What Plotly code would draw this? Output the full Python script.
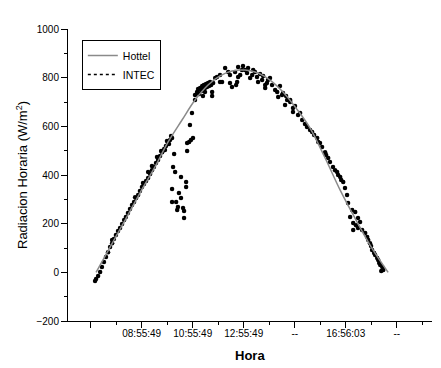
import plotly.graph_objects as go

# Hottel model curve (hour of day, W/m2)
hottel_hour = [7.14, 7.69, 8.28, 8.86, 9.45, 9.96, 10.51, 11.02, 11.53, 12.00, 12.47,
               12.98, 13.49, 13.96, 14.47, 14.98, 15.53, 16.12, 16.71, 17.29, 17.88, 18.59]
hottel_val = [0, 104, 215, 326, 433, 535, 626, 708, 770, 807, 827,
              831, 819, 790, 741, 675, 593, 470, 338, 223, 112, 0]

# INTEC measured data (hour of day, W/m2)
intec_hour = [
    7.10, 7.14, 7.22, 7.30, 7.37, 7.45, 7.53, 7.61, 7.69, 7.77, 7.84, 7.92, 8.00, 8.08,
    8.16, 8.24, 8.31, 8.39, 8.47, 8.55, 8.63, 8.71, 8.79, 8.86, 8.94, 9.02, 9.10, 9.18,
    9.26, 9.33, 9.41, 9.49, 9.57, 9.65, 9.73, 9.81, 9.88, 9.96, 10.04,
    7.77, 8.67, 8.98, 9.18, 9.33, 9.53, 9.69, 9.84, 9.92, 10.00, 10.08, 10.12,
    10.20, 10.71, 10.16, 10.24, 10.47, 10.67, 10.67, 10.12, 10.39, 10.47, 10.12, 10.28,
    10.35, 10.32, 10.55, 10.59, 10.59, 10.79, 10.86, 10.90, 10.82, 10.71, 10.94, 11.02,
    11.02, 11.10, 11.14, 11.18, 11.22, 11.26, 11.30, 11.33, 11.37, 11.41, 11.45, 11.49,
    11.53, 11.57, 11.61, 11.65, 11.69, 11.69, 11.73, 11.41, 11.33,
    11.88, 12.00, 12.08, 11.81, 12.00, 12.20, 12.32, 12.39, 12.39, 12.47, 12.63, 12.67,
    12.71, 12.71, 12.86, 12.98, 13.06, 13.18, 13.26, 13.37, 13.45, 13.49, 13.57, 13.65,
    13.77, 13.77, 13.84, 13.96, 14.04, 14.16, 14.24, 14.28, 14.35, 14.43, 14.55, 14.63,
    14.75, 14.86, 12.90, 13.10, 13.30, 12.59, 12.79, 13.69, 13.88,
    14.47, 14.59, 14.75, 14.86, 14.94, 15.06, 15.14, 15.22, 15.33, 15.41, 15.53, 15.61,
    15.69, 15.81, 15.85, 15.92, 16.00, 16.12, 16.16, 16.24, 16.31, 16.43, 16.51, 16.59,
    16.63, 16.71, 16.75, 16.83, 16.90, 16.98, 17.02, 17.18, 17.30, 17.10, 17.41, 17.22,
    17.49, 17.22, 17.41, 17.33, 17.57, 17.69, 17.77, 17.81, 17.88, 17.92, 17.96, 18.04,
    18.08, 18.16, 18.20, 18.24, 18.28, 18.36, 18.40, 18.32,
]
intec_val = [
    -36, -27, -15, 1, 22, 42, 63, 83, 104, 120, 137, 153, 170, 182,
    199, 215, 227, 244, 260, 277, 289, 305, 318, 334, 351, 363, 375, 388,
    404, 420, 433, 449, 462, 478, 494, 507, 519, 531, 544,
    133, 309, 367, 412, 437, 474, 499, 503, 540, 527, 560, 552,
    486, 499, 433, 412, 392, 371, 351, 342, 326, 305, 289, 289,
    268, 256, 264, 252, 223, 536, 544, 655, 605, 531, 552, 708,
    729, 741, 753, 733, 758, 745, 766, 749, 770, 758, 774, 762,
    778, 766, 782, 770, 741, 725, 778, 741, 725,
    803, 811, 782, 799, 782, 840, 823, 811, 778, 762, 770, 782,
    844, 803, 832, 832, 819, 799, 811, 823, 803, 782, 815, 790,
    770, 758, 778, 799, 770, 749, 741, 721, 766, 729, 688, 708,
    700, 675, 848, 840, 832, 823, 811, 807, 790,
    737, 725, 708, 659, 684, 647, 655, 626, 610, 597, 585, 577,
    564, 552, 536, 531, 515, 494, 482, 470, 453, 433, 420, 412,
    400, 392, 379, 371, 347, 318, 285, 256, 248, 227, 223, 203,
    207, 174, 182, 194, 174, 162, 145, 133, 120, 108, 92, 79,
    71, 59, 51, 38, 30, 22, 10, 5,
]

# Axis ticks
x_tickvals = [6.93, 8.93, 10.93, 12.93, 14.93, 16.93, 18.93]
x_ticktext = ["", "08:55:49", "10:55:49", "12:55:49", "--", "16:56:03", "--"]
y_tickvals = [-200, 0, 200, 400, 600, 800, 1000]

x_title = "<b>Hora</b>"
y_title = "Radiacion Horaria (W/m<sup>2</sup>)"

FONT = "Arial, Liberation Sans, sans-serif"

fig = go.Figure()
fig.add_trace(go.Scatter(
    x=intec_hour, y=intec_val, mode="markers", showlegend=False,
    marker=dict(color="black", size=4.5, line=dict(width=0)),
))
fig.add_trace(go.Scatter(
    x=hottel_hour, y=hottel_val, mode="lines", name="Hottel",
    line=dict(color="#8a8a8a", width=1.5, shape="spline"),
))
fig.add_trace(go.Scatter(
    x=[None], y=[None], mode="lines", name="INTEC",
    line=dict(color="black", width=1.5, dash="dot"),
))

fig.update_layout(
    width=441, height=368,
    margin=dict(l=68, r=9, t=29, b=47),
    paper_bgcolor="white", plot_bgcolor="white",
    font=dict(family=FONT, color="black", size=10),
    showlegend=True,
    legend=dict(
        x=0.038, y=0.962, xanchor="left", yanchor="top",
        bgcolor="white", bordercolor="black", borderwidth=1,
        font=dict(size=10.5, family=FONT),
        tracegroupgap=0, itemwidth=30,
    ),
    xaxis=dict(
        range=[6.04, 20.31], automargin=False,
        tickmode="array", tickvals=x_tickvals, ticktext=x_ticktext,
        ticks="outside", ticklen=6, tickwidth=1, tickcolor="black",
        minor=dict(ticks="outside", ticklen=3, tickwidth=1, tickcolor="black",
                   tick0=6.93, dtick=1),
        showline=True, linecolor="black", linewidth=1,
        showgrid=False, zeroline=False,
        tickfont=dict(size=10),
        ticklabelstandoff=-3,
    ),
    yaxis=dict(
        range=[-200, 1000], automargin=False,
        tickmode="array", tickvals=y_tickvals,
        ticks="outside", ticklen=6, tickwidth=1, tickcolor="black",
        minor=dict(ticks="outside", ticklen=3, tickwidth=1, tickcolor="black",
                   tick0=-200, dtick=100),
        showline=True, linecolor="black", linewidth=1,
        showgrid=False, zeroline=False,
        tickfont=dict(size=10),
    ),
    annotations=[
        dict(text=x_title, xref="paper", yref="paper", x=0.5, y=-34 / 292,
             xanchor="center", yanchor="middle", showarrow=False,
             font=dict(size=13, family=FONT)),
        dict(text=y_title, xref="paper", yref="paper", x=-46 / 364, y=0.5,
             xanchor="center", yanchor="middle", textangle=-90, showarrow=False,
             font=dict(size=13, family=FONT)),
    ],
)

fig.write_html("out.html", config={"displayModeBar": False},
               post_script="document.body.style.margin='0';document.body.style.padding='0';")
